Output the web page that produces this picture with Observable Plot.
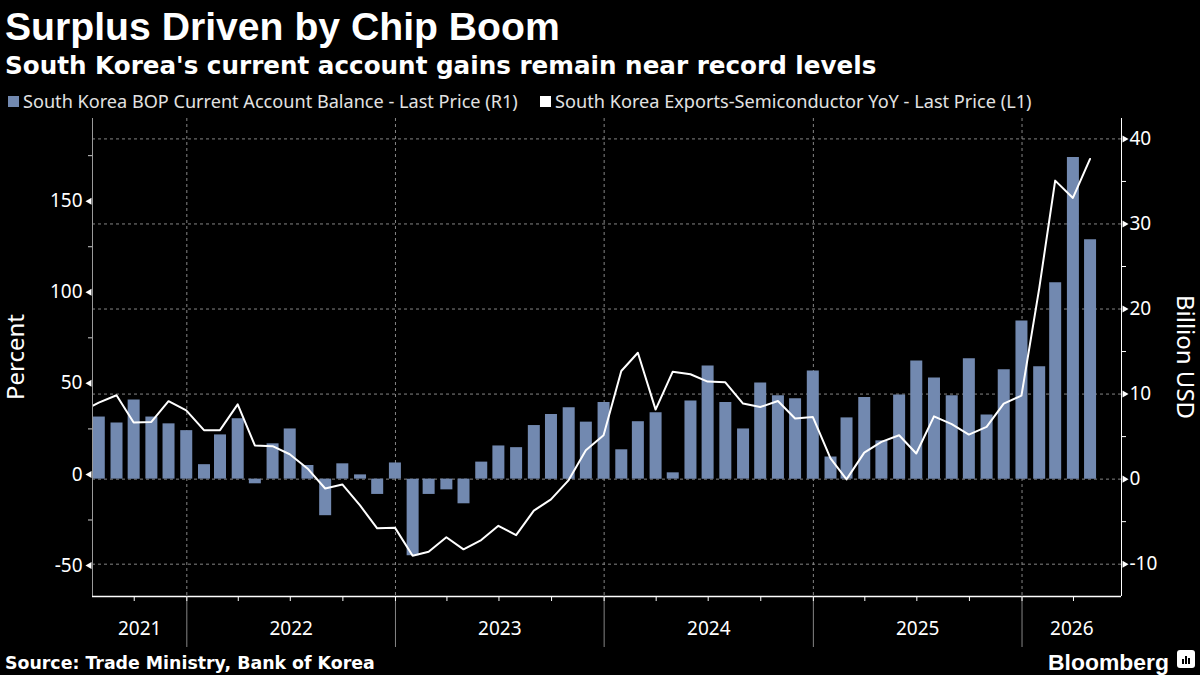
<!DOCTYPE html>
<html>
<head>
<meta charset="utf-8">
<script src="https://cdn.jsdelivr.net/npm/d3@7"></script>
<script src="https://cdn.jsdelivr.net/npm/@observablehq/plot@0.6"></script>
<style>
  html, body { margin: 0; padding: 0; background: #000; }
  #wrap { position: relative; width: 1200px; height: 675px; background: #000; overflow: hidden; color: #fff; }
  .abs { position: absolute; white-space: nowrap; line-height: 1; }
  #title { left: 5px; top: 5px; font: bold 39px "Liberation Sans", Arial, sans-serif; }
  #subtitle { left: 5px; top: 51px; font: bold 22px "DejaVu Sans", sans-serif; }
  .item { position: absolute; top: 93px; height: 16px; display: flex; align-items: center; gap: 4px; }
  .sw { width: 11px; height: 11px; display: inline-block; }
  .lt { font: 16px "Noto Sans", sans-serif; color: #e2e2e2; line-height: 1; white-space: nowrap; }
  #chart { position: absolute; left: 0; top: 100px; }
  .vlab { position: absolute; top: 357px; font: 24px "Noto Sans", sans-serif; line-height: 24px; white-space: nowrap; writing-mode: vertical-rl; color: #fff; }
  #ylabLeft { left: 3px; transform: translateY(-50%) rotate(180deg); }
  #ylabRight { left: 1174px; transform: translateY(-50%); }
  #source { left: 5px; top: 653px; font: bold 16px "DejaVu Sans", sans-serif; }
  #logo { left: 1048px; top: 649px; font: bold 23px "Liberation Sans", Arial, sans-serif; }
  #icon { position: absolute; left: 1177px; top: 650px; width: 18px; height: 18px; background: #fff; border-radius: 3px; }
  #icon span { position: absolute; bottom: 4px; width: 2px; background: #000; }
</style>
</head>
<body>
<div id="wrap">
  <div id="title" class="abs">Surplus Driven by Chip Boom</div>
  <div id="subtitle" class="abs">South Korea's current account gains remain near record levels</div>
  <div class="item" style="left:8px"><span class="sw" style="background:#7289b0"></span><span class="lt" id="l1">South Korea BOP Current Account Balance - Last Price (R1)</span></div>
  <div class="item" style="left:540px"><span class="sw" style="background:#ffffff"></span><span class="lt" id="l2">South Korea Exports-Semiconductor YoY - Last Price (L1)</span></div>
  <div id="chart"></div>
  <div id="ylabLeft" class="vlab">Percent</div>
  <div id="ylabRight" class="vlab">Billion USD</div>
  <div id="source" class="abs">Source: Trade Ministry, Bank of Korea</div>
  <div id="logo" class="abs">Bloomberg</div>
  <div id="icon"><span style="left:5px;height:5px"></span><span style="left:8px;height:8px"></span><span style="left:11px;height:6px"></span></div>
</div>
<script>
// ---------------- data ----------------
const months = [
  "2021-06","2021-07","2021-08","2021-09","2021-10","2021-11","2021-12",
  "2022-01","2022-02","2022-03","2022-04","2022-05","2022-06","2022-07","2022-08","2022-09","2022-10","2022-11","2022-12",
  "2023-01","2023-02","2023-03","2023-04","2023-05","2023-06","2023-07","2023-08","2023-09","2023-10","2023-11","2023-12",
  "2024-01","2024-02","2024-03","2024-04","2024-05","2024-06","2024-07","2024-08","2024-09","2024-10","2024-11","2024-12",
  "2025-01","2025-02","2025-03","2025-04","2025-05","2025-06","2025-07","2025-08","2025-09","2025-10","2025-11","2025-12",
  "2026-01","2026-02","2026-03","2026-04"
];
// South Korea Exports-Semiconductor YoY, percent (left axis)
const semiconductorYoY = [
  34.4, 39.4, 43.5, 28.5, 28.8, 40.2, 35.2,
  24.3, 24.3, 38.5, 15.9, 15.5, 11.1, 3.3, -7.7, -5.5, -17.0, -29.6, -29.2,
  -44.6, -42.4, -34.5, -41.1, -36.0, -28.2, -33.3, -19.9, -13.7, -3.1, 13.3, 21.5,
  56.8, 66.8, 35.6, 56.4, 55.0, 51.0, 50.6, 38.9, 37.0, 40.3, 30.7, 31.6,
  8.8, -2.7, 12.0, 17.9, 21.5, 11.5, 31.9, 27.6, 21.9, 26.1, 38.9, 43.3,
  102.0, 161.3, 151.8, 173.2
];
// South Korea BOP Current Account Balance, billion USD (right axis)
const currentAccount = [
  null, 7.3, 6.6, 9.3, 7.3, 6.5, 5.7,
  1.7, 5.2, 7.1, -0.55, 4.15, 5.9, 1.6, -4.3, 1.8, 0.5, -1.8, 1.9,
  -9.0, -1.8, -1.26, -2.9, 2.0, 3.9, 3.7, 6.3, 7.6, 8.4, 6.7, 9.0,
  3.45, 6.75, 7.8, 0.74, 9.2, 13.3, 9.0, 5.9, 11.3, 9.8, 9.45, 12.7,
  2.6, 7.2, 9.6, 4.5, 9.9, 13.9, 11.9, 9.8, 14.15, 7.55, 12.85, 18.6,
  13.2, 23.1, 37.8, 28.15
];
const years = [2021, 2022, 2023, 2024, 2025, 2026];
const leftTicks = [-50, 0, 50, 100, 150];
const leftMinorTicks = [-25, 25, 75, 125, 175];
const rightTicks = [-10, 0, 10, 20, 30, 40];
const rightMinorTicks = [-5, 5, 15, 25, 35];

// ---------------- text fitting ----------------
function fit(id, w) {
  const el = document.getElementById(id);
  const r = el.getBoundingClientRect().width;
  const fs = parseFloat(getComputedStyle(el).fontSize);
  el.style.fontSize = (fs * w / r) + "px";
}
fit("title", 555);
fit("subtitle", 872);
fit("l1", 495);
fit("l2", 477);
fit("source", 370);
fit("logo", 121);

// ---------------- chart ----------------
const monthEnd = (s) => { const [y, m] = s.split("-").map(Number); return new Date(Date.UTC(y, m, 0)); };
const data = months.map((m, i) => ({date: monthEnd(m), semi: semiconductorYoY[i], ca: currentAccount[i]}));

const xDomain = [new Date(Date.UTC(2021, 6, 20)), new Date(Date.UTC(2026, 5, 24))];
const leftDomain = [-67, 195.4];
const rightDomain = [-13.8, 42.4];
const toLeft = d3.scaleLinear(rightDomain, leftDomain);

const yearStarts = years.slice(1).map(y => new Date(Date.UTC(y, 0, 1)));
const quarterTicks = d3.utcMonth.every(3).range(xDomain[0], xDomain[1]);
const yearMid = (y) => {
  const a = Math.max(Date.UTC(y, 0, 1), +xDomain[0]);
  const b = Math.min(Date.UTC(y + 1, 0, 1), +xDomain[1]);
  return new Date((a + b) / 2);
};
const barColor = "#7289b0";
const gridColor = "#858585";
const tickFont = 19;

const chart = Plot.plot({
  width: 1200,
  height: 560,
  marginTop: 18,
  marginBottom: 64,
  marginLeft: 92,
  marginRight: 79,
  style: {background: "transparent", color: "white", fontFamily: "'Noto Sans', sans-serif", fontSize: "19px", overflow: "visible"},
  x: {type: "utc", domain: xDomain, label: null},
  y: {domain: leftDomain, label: null},
  marks: [
    Plot.gridY(rightTicks.map(d => toLeft(d)), {stroke: gridColor, strokeOpacity: 1, strokeDasharray: "3,3"}),
    Plot.gridX(yearStarts, {stroke: gridColor, strokeOpacity: 1, strokeDasharray: "3,3"}),
    Plot.ruleX(data.filter(d => d.ca != null), {x: "date", y1: () => toLeft(0), y2: d => toLeft(d.ca), stroke: barColor, strokeWidth: 12, clip: true}),
    Plot.line(data, {x: "date", y: "semi", stroke: "white", strokeWidth: 2, clip: true}),
    Plot.ruleX([xDomain[0]], {stroke: "#9a9a9a"}),
    Plot.ruleX([xDomain[1]], {stroke: "white"}),
    Plot.ruleY([leftDomain[0]], {stroke: "white", strokeWidth: 1.5}),
    Plot.axisX(yearStarts, {anchor: "bottom", tickSize: 51, tickFormat: () => "", stroke: gridColor, label: null}),
    Plot.axisX(quarterTicks, {anchor: "bottom", tickSize: 5, tickFormat: () => "", stroke: "white", label: null}),
    Plot.text(years, {x: d => yearMid(d), frameAnchor: "bottom", dy: 38, text: d => String(d), fill: "white", fontSize: tickFont}),
    Plot.axisY(leftMinorTicks, {anchor: "left", tickSize: 4, tickFormat: () => "", stroke: "#cccccc", label: null}),
    Plot.axisY(rightMinorTicks.map(d => toLeft(d)), {anchor: "right", tickSize: 4, tickFormat: () => "", stroke: "white", label: null}),
    Plot.dot(leftTicks, {y: d => d, frameAnchor: "left", symbol: "triangle", r: 2.6, rotate: -90, fill: "white", stroke: null, dx: -3}),
    Plot.text(leftTicks, {y: d => d, frameAnchor: "left", text: d => String(d), textAnchor: "end", dx: -10, fill: "white", fontSize: tickFont}),
    Plot.dot(rightTicks, {y: d => toLeft(d), frameAnchor: "right", symbol: "triangle", r: 2.6, rotate: 90, fill: "white", stroke: null, dx: 3}),
    Plot.text(rightTicks, {y: d => toLeft(d), frameAnchor: "right", text: d => String(d), textAnchor: "start", dx: 8, fill: "white", fontSize: tickFont})
  ]
});
document.getElementById("chart").appendChild(chart);
</script>
</body>
</html>
